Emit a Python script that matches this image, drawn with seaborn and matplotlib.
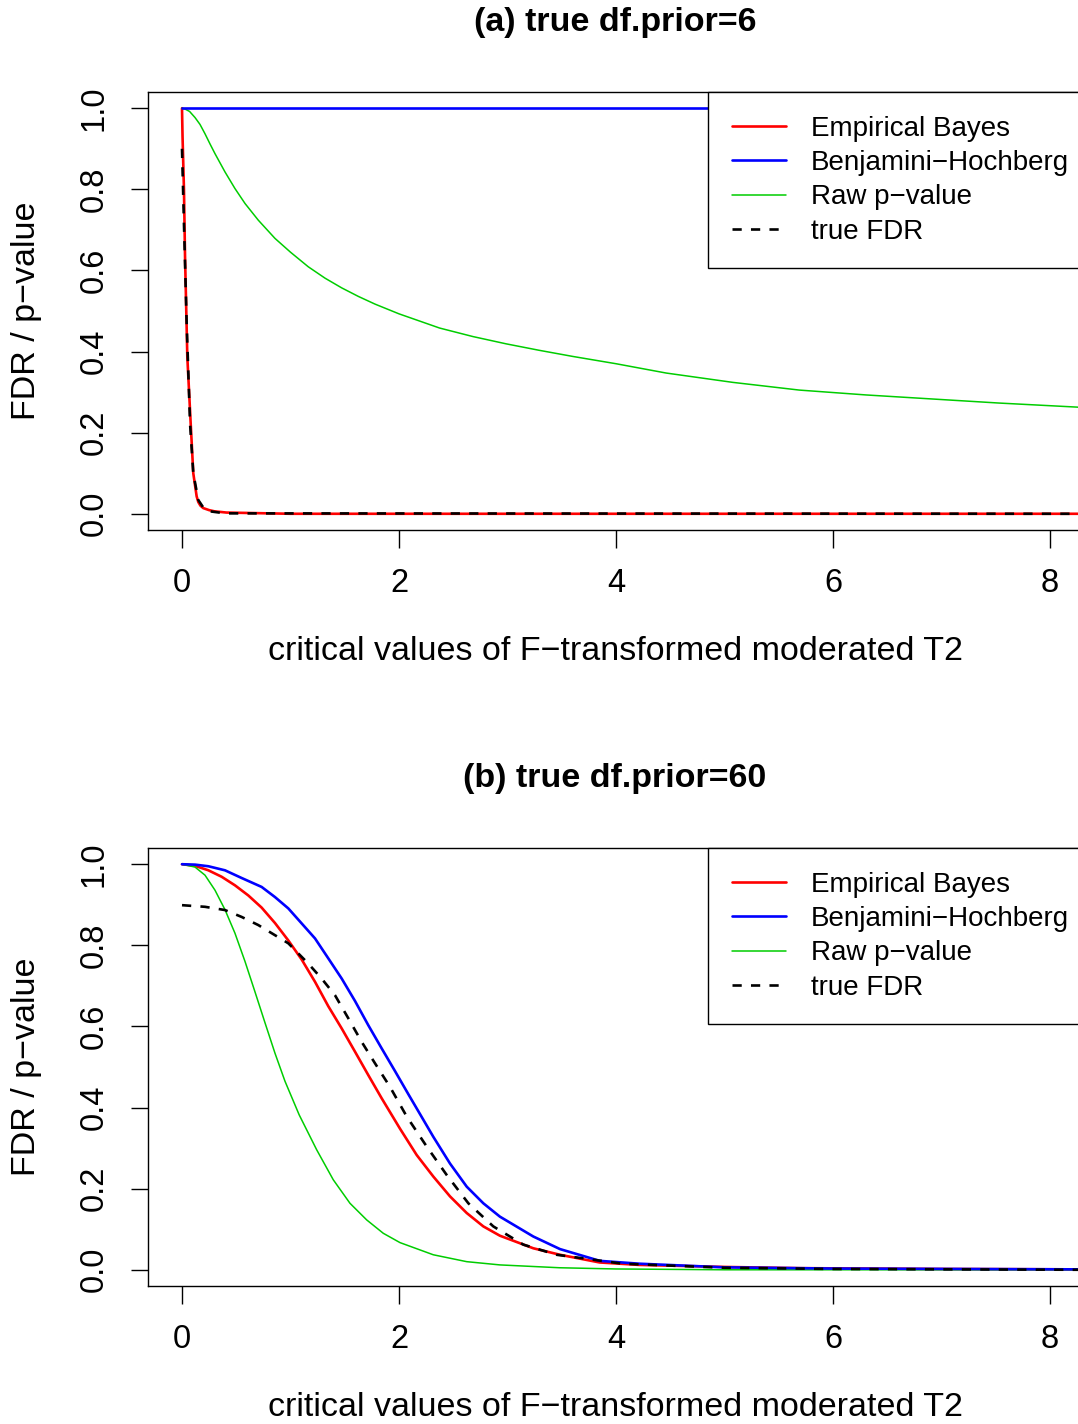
import numpy as np
import pandas as pd
import seaborn as sns
import matplotlib
matplotlib.use("Agg")
import matplotlib.pyplot as plt
from matplotlib.lines import Line2D

# ---------------- data ----------------
# panel (a) true df.prior = 6
a_eb_x = [0, 0.005, 0.018, 0.028, 0.049, 0.080, 0.104, 0.135, 0.15, 0.17, 0.196, 0.25, 0.30,
          0.41, 1.0, 8.3]
a_eb_y = [1.0, 0.93, 0.80, 0.634, 0.387, 0.223, 0.100, 0.043, 0.029, 0.020, 0.014, 0.009,
          0.006, 0.003, 0.0, 0.0]
a_bh_x = [0, 8.3]
a_bh_y = [1.0, 1.0]
a_raw_x = [0, 0.028, 0.07, 0.12, 0.166, 0.212, 0.258, 0.304, 0.396, 0.488, 0.581, 0.703,
           0.857, 1.0, 1.164, 1.318, 1.472, 1.625, 1.779, 2.0, 2.374, 2.681, 2.988, 3.294,
           3.601, 4.0, 4.463, 5.077, 5.69, 6.305, 6.918, 7.532, 8.25, 8.3]
a_raw_y = [1.0, 0.998, 0.992, 0.977, 0.960, 0.937, 0.912, 0.888, 0.843, 0.802, 0.765, 0.724,
           0.679, 0.645, 0.609, 0.581, 0.557, 0.536, 0.517, 0.493, 0.458, 0.437, 0.419, 0.403,
           0.388, 0.370, 0.347, 0.324, 0.305, 0.293, 0.283, 0.273, 0.263, 0.262]
a_true_x = [0, 0.018, 0.043, 0.074, 0.104, 0.15, 0.20, 0.258, 0.4, 8.3]
a_true_y = [0.9, 0.716, 0.47, 0.223, 0.10, 0.034, 0.014, 0.006, 0.001, 0.0]

# panel (b) true df.prior = 60
b_eb_x = [0, 0.12, 0.243, 0.366, 0.488, 0.611, 0.734, 0.857, 0.980, 1.103, 1.226, 1.348,
          1.472, 1.594, 1.717, 1.840, 2.009, 2.163, 2.316, 2.47, 2.624, 2.777, 2.93, 3.238,
          3.484, 3.85, 4.215, 5.0, 5.69, 7.0, 8.3]
b_eb_y = [1.0, 0.996, 0.985, 0.969, 0.948, 0.923, 0.893, 0.855, 0.812, 0.765, 0.710, 0.650,
          0.595, 0.538, 0.480, 0.423, 0.348, 0.283, 0.230, 0.181, 0.140, 0.107, 0.084, 0.053,
          0.037, 0.018, 0.012, 0.007, 0.004, 0.002, 0.001]
b_bh_x = [0, 0.12, 0.243, 0.396, 0.55, 0.734, 0.857, 0.980, 1.103, 1.226, 1.348, 1.472,
          1.594, 1.717, 1.840, 1.963, 2.086, 2.2, 2.316, 2.47, 2.624, 2.777, 2.93, 3.238,
          3.484, 3.85, 4.215, 5.0, 6.0, 8.3]
b_bh_y = [1.0, 0.999, 0.995, 0.985, 0.966, 0.944, 0.919, 0.891, 0.854, 0.817, 0.768, 0.718,
          0.663, 0.603, 0.546, 0.490, 0.433, 0.381, 0.328, 0.262, 0.205, 0.164, 0.131, 0.082,
          0.051, 0.022, 0.015, 0.006, 0.003, 0.001]
b_raw_x = [0, 0.12, 0.212, 0.304, 0.396, 0.488, 0.581, 0.673, 0.765, 0.857, 0.949, 1.08,
           1.241, 1.394, 1.548, 1.702, 1.855, 2.009, 2.316, 2.624, 2.93, 3.48, 4.0, 5.0, 8.3]
b_raw_y = [1.0, 0.993, 0.973, 0.936, 0.888, 0.830, 0.760, 0.685, 0.609, 0.534, 0.465, 0.382,
           0.296, 0.222, 0.164, 0.123, 0.090, 0.067, 0.037, 0.020, 0.012, 0.005, 0.002, 0.0, 0.0]
b_true_x = [0, 0.212, 0.396, 0.55, 0.703, 0.857, 0.98, 1.072, 1.164, 1.287, 1.410, 1.533,
            1.656, 1.779, 1.917, 2.071, 2.255, 2.439, 2.639, 2.869, 3.146, 3.453, 4.06, 5.0,
            6.0, 8.3]
b_true_y = [0.899, 0.895, 0.887, 0.870, 0.850, 0.825, 0.805, 0.780, 0.755, 0.718, 0.677, 0.620,
            0.562, 0.509, 0.451, 0.378, 0.304, 0.234, 0.164, 0.107, 0.062, 0.037, 0.015, 0.005,
            0.002, 0.0]

titles = ["(a) true df.prior=6", "(b) true df.prior=60"]
legend_labels = ["Empirical Bayes", "Benjamini\u2212Hochberg", "Raw p\u2212value", "true FDR"]
xlabel = "critical values of F\u2212transformed moderated T2"
ylabel = "FDR / p\u2212value"
x_ticks = [0, 2, 4, 6, 8]
y_ticks = [0.0, 0.2, 0.4, 0.6, 0.8, 1.0]

# ---------------- style ----------------
sns.set_theme(style="ticks")
plt.rcParams["font.family"] = ["Liberation Sans", "DejaVu Sans"]
plt.rcParams["axes.unicode_minus"] = True

RED, BLUE, GREEN, BLACK = "#FF0000", "#0000FF", "#00CD00", "#000000"
LW = 1.9
LW_G = 1.1
DASH = (0, (3.5, 3.5))

W, H = 1078, 1424
fig = plt.figure(figsize=(W / 100, H / 100), dpi=100)
fig.patch.set_facecolor("white")

ax_left_px, ax_right_px = 148, 1082
panels = [
    (92, 530, titles[0], (a_eb_x, a_eb_y), (a_bh_x, a_bh_y), (a_raw_x, a_raw_y), (a_true_x, a_true_y)),
    (848, 1286, titles[1], (b_eb_x, b_eb_y), (b_bh_x, b_bh_y), (b_raw_x, b_raw_y), (b_true_x, b_true_y)),
]

px_per_unit = (1050 - 182) / 8.0
xmin = -(182 - ax_left_px) / px_per_unit
xmax = (ax_right_px - 182) / px_per_unit
FS_TICK = 23.5
FS_LAB = 24.5
FS_LEG = 20
FS_TITLE = 24.5

for top_px, bot_px, title, eb, bh, raw, tru in panels:
    ax = fig.add_axes([ax_left_px / W, (H - bot_px) / H,
                       (ax_right_px - ax_left_px) / W, (bot_px - top_px) / H])
    ax.set_facecolor("white")
    sns.lineplot(x=eb[0], y=eb[1], ax=ax, color=RED, linewidth=LW, sort=False, estimator=None)
    sns.lineplot(x=raw[0], y=raw[1], ax=ax, color=GREEN, linewidth=LW_G, sort=False, estimator=None)
    sns.lineplot(x=bh[0], y=bh[1], ax=ax, color=BLUE, linewidth=LW, sort=False, estimator=None)
    sns.lineplot(x=tru[0], y=tru[1], ax=ax, color=BLACK, linewidth=LW, linestyle=DASH,
                 sort=False, estimator=None)

    ax.set_xlim(xmin, xmax)
    ax.set_ylim(-0.04, 1.04)
    ax.set_xticks(x_ticks)
    ax.set_xticklabels([str(t) for t in x_ticks])
    ax.set_yticks(y_ticks)
    ax.set_yticklabels([f"{t:.1f}" for t in y_ticks])
    for sp in ax.spines.values():
        sp.set_visible(True)
        sp.set_color("black")
        sp.set_linewidth(1.0)
    ax.tick_params(axis="both", direction="out", length=12.6, width=1.0, color="black",
                   labelsize=FS_TICK, labelcolor="black")
    ax.tick_params(axis="x", pad=15)
    ax.tick_params(axis="y", pad=15)
    for lab in ax.get_yticklabels():
        lab.set_rotation(90)
        lab.set_va("center")
        lab.set_ha("right")

    ah = bot_px - top_px
    aw = ax_right_px - ax_left_px
    ax.set_xlabel(xlabel, fontsize=FS_LAB, color="black")
    ax.xaxis.label.set_va("center")
    ax.xaxis.set_label_coords(0.5, -(651 - 530) / ah)
    ax.set_ylabel(ylabel, fontsize=FS_LAB, color="black")
    ax.yaxis.label.set_va("center")
    ax.yaxis.set_label_coords(-(148 - 26) / aw, 0.5)

    ax.text(0.5, 1 + 70 / ah, title, transform=ax.transAxes, ha="center", va="center",
            fontsize=FS_TITLE, fontweight="bold", color="black")

    handles = [
        Line2D([], [], color=RED, linewidth=LW),
        Line2D([], [], color=BLUE, linewidth=LW),
        Line2D([], [], color=GREEN, linewidth=LW_G),
        Line2D([], [], color=BLACK, linewidth=LW, linestyle=DASH),
    ]
    leg = ax.legend(handles, legend_labels, loc="upper left",
                    bbox_to_anchor=(708 / W, (H - top_px) / H), bbox_transform=fig.transFigure,
                    fontsize=FS_LEG, frameon=True, fancybox=False, shadow=False, framealpha=1,
                    edgecolor="black", borderpad=0.85, handlelength=1.95, handletextpad=0.9,
                    labelspacing=0.30, borderaxespad=0)
    leg.get_frame().set_linewidth(1.0)
    for t in leg.get_texts():
        t.set_color("black")

fig.savefig("out.png", dpi=100, facecolor="white")
